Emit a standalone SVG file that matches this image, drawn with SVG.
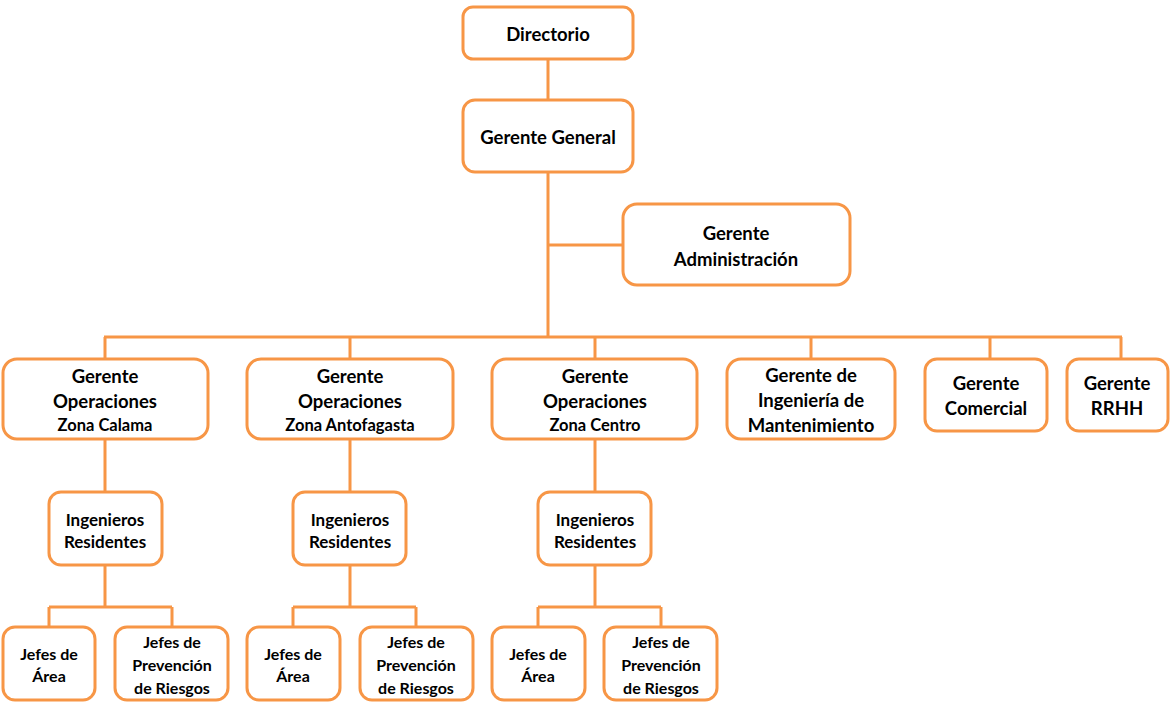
<svg xmlns="http://www.w3.org/2000/svg" width="1172" height="703" viewBox="0 0 1172 703">
  <style>
    .box { fill: #ffffff; stroke: #F79646; stroke-width: 3; }
    .link { fill: none; stroke: #F79646; stroke-width: 3; }
    text { font-family: Lato, "Open Sans", "Liberation Sans", sans-serif; font-weight: bold; fill: #000000; text-anchor: middle; dominant-baseline: central; }
    .l { font-size: 18.5px; }
    .m { font-size: 17px; }
    .z { font-size: 16.5px; }
    .s { font-size: 16px; }
  </style>
  <rect width="1172" height="703" fill="#ffffff"/>

  <g id="connectors">
    <path class="link" d="M548 59 V100 M548 172 V337 M548 245 H623"/>
    <path class="link" d="M104 337 H1122 M105 337 V359 M350 337 V359 M595 337 V359 M811 337 V359 M990 337 V359 M1121 337 V359"/>
    <path class="link" d="M105 439 V492 M105 565 V607 M49 607 H172 M49 607 V627 M172 607 V627"/>
    <path class="link" d="M350 439 V492 M350 565 V607 M293 607 H416 M293 607 V627 M416 607 V627"/>
    <path class="link" d="M595 439 V492 M595 565 V607 M538 607 H661 M538 607 V627 M661 607 V627"/>
  </g>

  <g id="directorio">
    <rect class="box" x="463" y="7" width="170" height="52" rx="10"/>
    <text class="l" x="548" y="34">Directorio</text>
  </g>
  <g id="gerente-general">
    <rect class="box" x="463" y="100" width="170" height="72" rx="12"/>
    <text class="l" x="548" y="137">Gerente General</text>
  </g>
  <g id="gerente-administracion">
    <rect class="box" x="623" y="204" width="227" height="81" rx="14"/>
    <text class="l" x="736" y="233">Gerente</text>
    <text class="l" x="736" y="259">Administración</text>
  </g>

  <g id="op-calama">
    <rect class="box" x="3" y="359" width="205" height="80" rx="14"/>
    <text class="l" x="105" y="376">Gerente</text>
    <text class="l" x="105" y="401">Operaciones</text>
    <text class="z" x="105" y="425">Zona Calama</text>
  </g>
  <g id="op-antofagasta">
    <rect class="box" x="247" y="359" width="206" height="80" rx="14"/>
    <text class="l" x="350" y="376">Gerente</text>
    <text class="l" x="350" y="401">Operaciones</text>
    <text class="z" x="350" y="425">Zona Antofagasta</text>
  </g>
  <g id="op-centro">
    <rect class="box" x="492" y="359" width="205" height="80" rx="14"/>
    <text class="l" x="595" y="376">Gerente</text>
    <text class="l" x="595" y="401">Operaciones</text>
    <text class="z" x="595" y="425">Zona Centro</text>
  </g>
  <g id="ing-mantenimiento">
    <rect class="box" x="727" y="359" width="168" height="80" rx="14"/>
    <text class="l" x="811" y="375">Gerente de</text>
    <text class="l" x="811" y="400">Ingeniería de</text>
    <text class="l" x="811" y="425">Mantenimiento</text>
  </g>
  <g id="comercial">
    <rect class="box" x="925" y="359" width="122" height="72" rx="12"/>
    <text class="l" x="986" y="383">Gerente</text>
    <text class="l" x="986" y="408">Comercial</text>
  </g>
  <g id="rrhh">
    <rect class="box" x="1067" y="359" width="101" height="72" rx="12"/>
    <text class="l" x="1117" y="383">Gerente</text>
    <text class="l" x="1117" y="408">RRHH</text>
  </g>

  <g id="ing-calama">
    <rect class="box" x="49" y="492" width="113" height="73" rx="12"/>
    <text class="m" x="105" y="519">Ingenieros</text>
    <text class="m" x="105" y="541">Residentes</text>
  </g>
  <g id="ing-antofagasta">
    <rect class="box" x="293" y="492" width="113" height="73" rx="12"/>
    <text class="m" x="350" y="519">Ingenieros</text>
    <text class="m" x="350" y="541">Residentes</text>
  </g>
  <g id="ing-centro">
    <rect class="box" x="538" y="492" width="113" height="73" rx="12"/>
    <text class="m" x="595" y="519">Ingenieros</text>
    <text class="m" x="595" y="541">Residentes</text>
  </g>

  <g id="area-calama">
    <rect class="box" x="3" y="627" width="92" height="73" rx="12"/>
    <text class="s" x="49" y="653">Jefes de</text>
    <text class="s" x="49" y="675">Área</text>
  </g>
  <g id="riesgos-calama">
    <rect class="box" x="115" y="627" width="113" height="73" rx="12"/>
    <text class="s" x="172" y="641">Jefes de</text>
    <text class="s" x="172" y="664">Prevención</text>
    <text class="s" x="172" y="687">de Riesgos</text>
  </g>
  <g id="area-antofagasta">
    <rect class="box" x="247" y="627" width="93" height="73" rx="12"/>
    <text class="s" x="293" y="653">Jefes de</text>
    <text class="s" x="293" y="675">Área</text>
  </g>
  <g id="riesgos-antofagasta">
    <rect class="box" x="360" y="627" width="113" height="73" rx="12"/>
    <text class="s" x="416" y="641">Jefes de</text>
    <text class="s" x="416" y="664">Prevención</text>
    <text class="s" x="416" y="687">de Riesgos</text>
  </g>
  <g id="area-centro">
    <rect class="box" x="492" y="627" width="93" height="73" rx="12"/>
    <text class="s" x="538" y="653">Jefes de</text>
    <text class="s" x="538" y="675">Área</text>
  </g>
  <g id="riesgos-centro">
    <rect class="box" x="604" y="627" width="113" height="73" rx="12"/>
    <text class="s" x="661" y="641">Jefes de</text>
    <text class="s" x="661" y="664">Prevención</text>
    <text class="s" x="661" y="687">de Riesgos</text>
  </g>
</svg>
